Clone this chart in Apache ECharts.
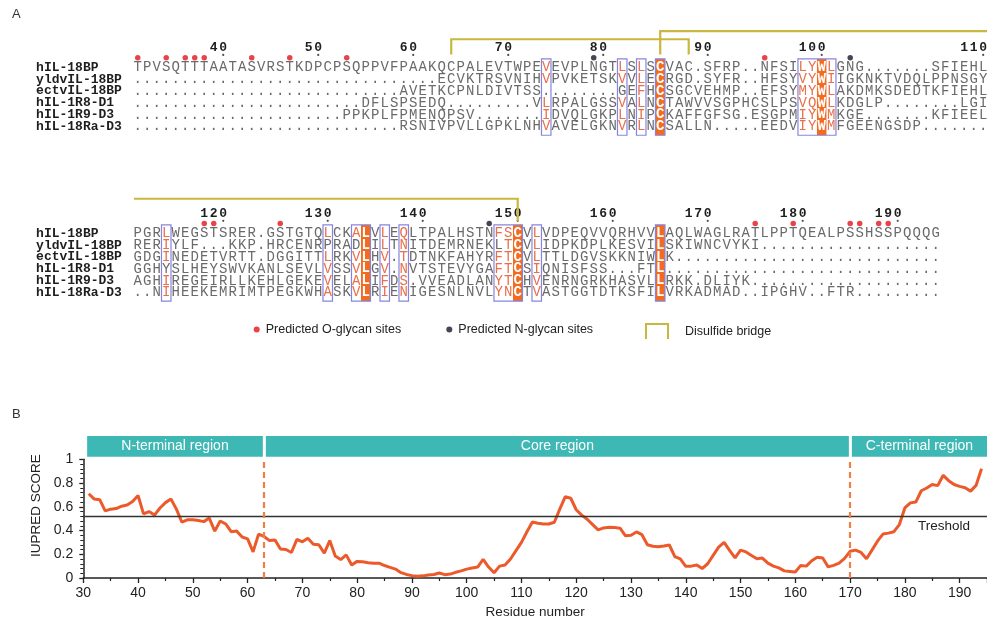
<!DOCTYPE html>
<html><head><meta charset="utf-8">
<script src="https://cdn.jsdelivr.net/npm/echarts@6/dist/echarts.min.js"></script>
<style>html,body{margin:0;padding:0;background:#fff}#c{width:987px;height:620px}</style>
</head><body><div id="c"></div>
<script>
// ---------------- Panel A data (sequence alignment) ----------------
const ALIGN_NAMES = ['hIL-18BP','yldvIL-18BP','ectvIL-18BP','hIL-1R8-D1','hIL-1R9-D3','hIL-18Ra-D3'];
const BLOCK1_SEQS = [
  'TPVSQTTTAATASVRSTKDPCPSQPPVFPAAKQCPALEVTWPEVEVPLNGTLSLSCVAC.SFRP..NFSILYWLGNG.......SFIEHL',
  '.'.repeat(32) + 'ECVKTRSVNIHVPVKETSKVVLECRGD.SYFR..HFSYVYWIIGKNKTVDQLPPNSGY',
  '.'.repeat(28) + 'AVETKCPNLDIVTSS........GEFHCSGCVEHMP..EFSYMYWLAKDMKSDEDTKFIEHL',
  '.'.repeat(24) + 'DFLSPSEDQ.........VLRPALGSSVALNCTAWVVSGPHCSLPSVQWLKDGLP........LGI',
  '.'.repeat(22) + 'PPKPLFPMENQPSV.......IDVQLGKPLNIPCKAFFGFSG.ESGPMIYWMKGE.......KFIEEL',
  '.'.repeat(28) + 'RSNIVPVLLGPKLNHVAVELGKNVRLNCSALLN.....EEDVIYWMFGEENGSDP.......'
];
const BLOCK2_SEQS = [
  'PGRLWEGSTSRER.GSTGTQLCKALVLEQLTPALHSTNFSCVLVDPEQVVQRHVVLAQLWAGLRATLPPTQEALPSSHSSPQQQG',
  'RERIYLF...KKP.HRCENRPRADLILTNITDEMRNEKLTCVLIDPKDPLKESVILSKIWNCVYKI' + '.'.repeat(19),
  'GDGINEDETVRTT.DGGITTLRKVLHV.TDTNKFAHYRFTCVLTTLDGVSKKNIWLK' + '.'.repeat(28),
  'GGHYSLHEYSWVKANLSEVLVSSVLGV.NVTSTEVYGAFTCSIQNISFSS...FTL' + '.'.repeat(29),
  'AGHIREGEIRLLKEHLGEKEVELALIFDS.VVEADLANYTCHVENRNGRKHASVLLRKK.DLIYK' + '.'.repeat(20),
  '..NIHEEKEMRIMTPEGKWHASKVLRIENIGESNLNVLYNCTVASTGGTDTKSFILVRKADMAD..IPGHV..FTR' + '.'.repeat(9)
];
const BLOCK_START_RESIDUE = [31, 111];
const BLOCK1_BOXES = [[43,43],[51,51],[53,53],[55,55],[70,73]];
const BLOCK2_BOXES = [[3,3],[20,20],[23,24],[26,26],[28,28],[38,40],[42,42],[55,55]];
const BLOCK1_CONSERVED = [55,72];
const BLOCK2_CONSERVED = [24,40,55];
const BLOCK1_PLAIN_IN_BOX = [[2,51]];
const BLOCK2_PLAIN_IN_BOX = [[3,3],[1,20],[1,23],[1,38]];
const RULER_NUMBERS = [40,50,60,70,80,90,100,110,120,130,140,150,160,170,180,190];
const O_GLYCAN_SITES = [31,34,36,37,38,43,47,53,94,118,119,125,175,179,185,186,188,189];
const N_GLYCAN_SITES = [79,103,147];
const DISULFIDE_BRIDGES = [[64,89],[86,150]];

// ---------------- Panel B data (IUPred profile) ----------------
const IUPRED_START = 31;
const IUPRED_SCORES = [
  0.71,0.665,0.66,0.565,0.58,0.585,0.605,0.615,0.645,0.695,          // 31-40
  0.54,0.56,0.53,0.59,0.635,0.665,0.58,0.47,0.49,0.49,               // 41-50
  0.485,0.475,0.505,0.395,0.48,0.455,0.39,0.395,0.345,0.33,          // 51-60
  0.22,0.37,0.35,0.315,0.32,0.245,0.24,0.215,0.325,0.305,            // 61-70
  0.335,0.285,0.28,0.21,0.315,0.185,0.155,0.195,0.11,0.14,           // 71-80
  0.137,0.128,0.125,0.125,0.105,0.09,0.075,0.045,0.03,0.02,          // 81-90
  0.015,0.018,0.025,0.03,0.042,0.028,0.033,0.048,0.06,0.075,         // 91-100
  0.085,0.092,0.156,0.092,0.044,0.1,0.11,0.16,0.23,0.3,              // 101-110
  0.39,0.472,0.461,0.455,0.455,0.47,0.58,0.685,0.672,0.575,          // 111-120
  0.53,0.495,0.45,0.405,0.422,0.428,0.425,0.42,0.355,0.36,           // 121-130
  0.388,0.365,0.28,0.267,0.264,0.27,0.278,0.18,0.161,0.098,          // 131-140
  0.1,0.11,0.08,0.12,0.19,0.26,0.3,0.232,0.17,0.235,                 // 141-150
  0.22,0.19,0.162,0.168,0.125,0.1,0.085,0.06,0.055,0.05,             // 151-160
  0.106,0.1,0.145,0.175,0.168,0.094,0.106,0.125,0.165,0.225,         // 161-170
  0.235,0.215,0.162,0.235,0.31,0.37,0.378,0.39,0.45,0.59,            // 171-180
  0.633,0.64,0.735,0.758,0.788,0.778,0.865,0.82,0.788,0.772,         // 181-190
  0.76,0.732,0.78,0.92                                               // 191-194
];
const THRESHOLD = 0.517;
const REGION_NAMES = ['N-terminal region','Core region','C-terminal region'];
const REGION_BOUNDS = [[30.7,63],[63,170],[170,195]];
const REGION_DIVIDERS = [63,170];

// ---------------- styling / layout ----------------
const BLOCK_ROW_BASE = [0, 14];
const C_TEAL = '#3db8b4', C_LINE = '#ec5a2b', C_DASH = '#ef7f45';
const C_FILL = '#f26b21', C_SIM = '#e8704a', C_BOX = '#8585e0', C_BRIDGE = '#c9b83d';
const MONO = "'Liberation Mono','DejaVu Sans Mono',monospace";
const SANS = "'Liberation Sans',Arial,sans-serif";

// residue -> column map built from the reference sequence (hIL-18BP)
const resPos = {};
[BLOCK1_SEQS[0], BLOCK2_SEQS[0]].forEach((seq, b) => {
  let r = BLOCK_START_RESIDUE[b];
  seq.split('').forEach((ch, c) => { if (ch !== '.') { resPos[r] = {b, col: c}; r++; } });
});

const boxesPerBlock = [BLOCK1_BOXES, BLOCK2_BOXES];
const consPerBlock = [BLOCK1_CONSERVED, BLOCK2_CONSERVED];
const plainPerBlock = [BLOCK1_PLAIN_IN_BOX, BLOCK2_PLAIN_IN_BOX];

const letters = [];
[BLOCK1_SEQS, BLOCK2_SEQS].forEach((seqs, b) => {
  seqs.forEach((seq, i) => {
    seq.split('').forEach((ch, c) => {
      let kind = 0;
      if (consPerBlock[b].includes(c)) kind = 2;
      else if (ch !== '.' && boxesPerBlock[b].some(([s, e]) => c >= s && c <= e)
               && !plainPerBlock[b].some(([ri, cc]) => ri === i && cc === c)) kind = 1;
      letters.push({v: [c, BLOCK_ROW_BASE[b] + i], ch, kind});
    });
  });
});

const nameItems = [];
BLOCK_ROW_BASE.forEach(base => ALIGN_NAMES.forEach((n, i) => nameItems.push({v: [-10.7, base + i], n})));

const fillRects = [], boxRects = [];
[0, 1].forEach(b => {
  const base = BLOCK_ROW_BASE[b];
  consPerBlock[b].forEach(c => fillRects.push([c - 0.5, c + 0.5, base - 0.68, base + 5.76]));
  boxesPerBlock[b].forEach(([s, e]) => boxRects.push([s - 0.5, e + 0.5, base - 0.68, base + 5.76]));
});

const rulerDigits = [], rulerTicks = [];
RULER_NUMBERS.forEach(n => {
  const p = resPos[n], base = BLOCK_ROW_BASE[p.b], s = String(n);
  s.split('').forEach((d, k) => rulerDigits.push({v: [p.col - (s.length - 1 - k), base - 1.6], d}));
  rulerTicks.push([p.col, base - 1.02]);
});
const siteData = list => list.map(r => [resPos[r].col, BLOCK_ROW_BASE[resPos[r].b] - 0.79]);

const ALIGN_XMAX = 89.4;
const bridgePaths = [];
DISULFIDE_BRIDGES.forEach(([a, z]) => {
  const pa = resPos[a], pz = resPos[z];
  const ba = BLOCK_ROW_BASE[pa.b], bz = BLOCK_ROW_BASE[pz.b];
  if (pa.b === pz.b) {
    bridgePaths.push([[pa.col, ba - 1.05], [pa.col, ba - 2.34], [pz.col, ba - 2.34], [pz.col, ba - 1.05]]);
  } else {
    bridgePaths.push([[pa.col, ba - 1.05], [pa.col, ba - 3.02], [ALIGN_XMAX, ba - 3.02]]);
    bridgePaths.push([[-0.4, bz - 2.88], [pz.col, bz - 2.88], [pz.col, bz - 0.98]]);
  }
});

const iupredData = IUPRED_SCORES.map((v, i) => [IUPRED_START + i, v]);

const chart = echarts.init(document.getElementById('c'));
const textEl = (x, y, text, fill, font, align) => ({type: 'text', x, y, style: {text, fill, font, align: align || 'center', verticalAlign: 'middle'}});

chart.setOption({
  animation: false,
  backgroundColor: '#fff',
  title: [
    {text: 'A', left: 7, top: 3, textStyle: {fontSize: 13, fontWeight: 'normal', color: '#333', fontFamily: SANS}},
    {text: 'B', left: 7, top: 403, textStyle: {fontSize: 13, fontWeight: 'normal', color: '#333', fontFamily: SANS}}
  ],
  legend: [
    {data: ['Predicted O-glycan sites'], left: 248.7, top: 318, selectedMode: false, itemWidth: 6, itemHeight: 6, icon: 'circle',
     textStyle: {fontSize: 12.5, color: '#222', fontFamily: SANS, padding: [0, 0, 0, 1]}},
    {data: ['Predicted N-glycan sites'], left: 441.3, top: 318, selectedMode: false, itemWidth: 6, itemHeight: 6, icon: 'circle',
     textStyle: {fontSize: 12.5, color: '#222', fontFamily: SANS, padding: [0, 0, 0, 1]}},
    {data: [{name: 'Disulfide bridge', icon: 'path://M0,15L0,0L22,0L22,15',
             itemStyle: {color: 'rgba(0,0,0,0)', borderColor: C_BRIDGE, borderWidth: 2}}],
     left: 640, top: 318, selectedMode: false, itemWidth: 22, itemHeight: 15,
     textStyle: {fontSize: 12.5, color: '#222', fontFamily: SANS, padding: [0, 0, 0, 12]}}
  ],
  grid: [
    {left: 0, top: 0, width: 987, height: 340},
    {left: 83.3, top: 459.3, width: 905.2, height: 120},
    {left: 83.3, top: 436, width: 905.2, height: 20.7}
  ],
  xAxis: [
    {gridIndex: 0, type: 'value', min: -14.5, max: ALIGN_XMAX, show: false},
    {gridIndex: 1, type: 'value', min: 30, max: 195, interval: 10,
     name: 'Residue number', nameLocation: 'middle', nameGap: 27,
     nameTextStyle: {fontSize: 13.5, color: '#222', fontFamily: SANS},
     axisLine: {lineStyle: {color: '#222', width: 1.5}},
     axisTick: {length: 5, lineStyle: {color: '#222', width: 1.3}},
     minorTick: {show: true, splitNumber: 2, length: 3, lineStyle: {color: '#222', width: 1.2}},
     axisLabel: {fontSize: 14, color: '#222', fontFamily: SANS, margin: 8, showMaxLabel: false},
     splitLine: {show: false}},
    {gridIndex: 2, type: 'value', min: 30, max: 195, show: false}
  ],
  yAxis: [
    {gridIndex: 0, type: 'value', min: -5.654, max: 23.038, inverse: true, show: false},
    {gridIndex: 1, type: 'value', min: 0, max: 1, interval: 0.2,
     name: 'IUPRED SCORE', nameLocation: 'middle', nameGap: 36,
     nameTextStyle: {fontSize: 13.5, color: '#222', fontFamily: SANS, padding: [0, 0, 0, 26]},
     axisLine: {show: true, lineStyle: {color: '#222', width: 1.5}},
     axisTick: {show: true, length: 4, lineStyle: {color: '#222', width: 1.3}},
     minorTick: {show: true, splitNumber: 5, length: 3, lineStyle: {color: '#222', width: 1}},
     axisLabel: {fontSize: 14, color: '#222', fontFamily: SANS, margin: 10},
     splitLine: {show: false}},
    {gridIndex: 2, type: 'value', min: 0, max: 1, show: false}
  ],
  series: [
    {type: 'custom', name: 'conserved', xAxisIndex: 0, yAxisIndex: 0, silent: true, z: 1,
     data: fillRects,
     renderItem: (params, api) => {
       const d = fillRects[params.dataIndex];
       const p0 = api.coord([d[0], d[2]]), p1 = api.coord([d[1], d[3]]);
       return {type: 'rect', shape: {x: p0[0], y: p0[1], width: p1[0] - p0[0], height: p1[1] - p0[1]}, style: {fill: C_FILL}};
     }},
    {type: 'custom', name: 'boxes', xAxisIndex: 0, yAxisIndex: 0, silent: true, z: 3,
     data: boxRects,
     renderItem: (params, api) => {
       const d = boxRects[params.dataIndex];
       const p0 = api.coord([d[0], d[2]]), p1 = api.coord([d[1], d[3]]);
       return {type: 'rect', shape: {x: p0[0], y: p0[1], width: p1[0] - p0[0], height: p1[1] - p0[1]},
               style: {fill: 'none', stroke: C_BOX, lineWidth: 1.2}};
     }},
    {type: 'custom', name: 'residues', xAxisIndex: 0, yAxisIndex: 0, silent: true, z: 4,
     data: letters.map(l => l.v),
     renderItem: (params, api) => {
       const l = letters[params.dataIndex];
       const p = api.coord(l.v);
       const fill = l.kind === 2 ? '#fff' : (l.kind === 1 ? C_SIM : '#6a6a6a');
       const font = (l.kind === 2 ? 'bold ' : '') + '14px ' + MONO;
       return textEl(p[0], p[1] + 0.5, l.ch, fill, font);
     }},
    {type: 'custom', name: 'names', xAxisIndex: 0, yAxisIndex: 0, silent: true,
     data: nameItems.map(n => n.v),
     renderItem: (params, api) => {
       const n = nameItems[params.dataIndex];
       const p = api.coord(n.v);
       return textEl(p[0], p[1] + 0.5, n.n, '#1e1e1e', 'bold 13px ' + MONO, 'left');
     }},
    {type: 'custom', name: 'ruler', xAxisIndex: 0, yAxisIndex: 0, silent: true,
     data: rulerDigits.map(d => d.v),
     renderItem: (params, api) => {
       const d = rulerDigits[params.dataIndex];
       const p = api.coord(d.v);
       return textEl(p[0], p[1], d.d, '#1e1e1e', 'bold 13px ' + MONO);
     }},
    {type: 'scatter', name: 'ruler ticks', xAxisIndex: 0, yAxisIndex: 0, silent: true,
     data: rulerTicks, symbol: 'circle', symbolSize: 2.2, itemStyle: {color: '#222'}},
    {type: 'scatter', name: 'Predicted O-glycan sites', xAxisIndex: 0, yAxisIndex: 0, silent: true,
     data: siteData(O_GLYCAN_SITES), symbol: 'circle', symbolSize: 5.5, itemStyle: {color: '#e3141c'}},
    {type: 'scatter', name: 'Predicted N-glycan sites', xAxisIndex: 0, yAxisIndex: 0, silent: true,
     data: siteData(N_GLYCAN_SITES), symbol: 'circle', symbolSize: 5.5, itemStyle: {color: '#161628'}},
    {type: 'custom', name: 'Disulfide bridge', xAxisIndex: 0, yAxisIndex: 0, silent: true, z: 5,
     itemStyle: {color: C_BRIDGE},
     data: bridgePaths.map(p => p[0]),
     renderItem: (params, api) => ({
       type: 'polyline',
       shape: {points: bridgePaths[params.dataIndex].map(pt => api.coord(pt))},
       style: {fill: 'none', stroke: C_BRIDGE, lineWidth: 2.2}
     })},
    {type: 'custom', name: 'regions', xAxisIndex: 2, yAxisIndex: 2, silent: true,
     data: REGION_BOUNDS,
     renderItem: (params, api) => {
       const i = params.dataIndex, [s, e] = REGION_BOUNDS[i];
       const p0 = api.coord([s, 1]), p1 = api.coord([e, 0]);
       const x0 = p0[0] + (i > 0 ? 1.8 : 0), x1 = p1[0] - (i < REGION_BOUNDS.length - 1 ? 1.2 : 0);
       const xr = Math.min(x1, 987);
       return {type: 'group', children: [
         {type: 'rect', shape: {x: x0, y: p0[1], width: x1 - x0, height: p1[1] - p0[1]}, style: {fill: C_TEAL}},
         textEl((x0 + xr) / 2, (p0[1] + p1[1]) / 2, REGION_NAMES[i], '#fff', '14px ' + SANS)
       ]};
     }},
    {type: 'line', name: 'IUPRED', xAxisIndex: 1, yAxisIndex: 1, data: iupredData,
     showSymbol: false, symbol: 'none', lineStyle: {color: C_LINE, width: 3}, z: 4,
     markLine: {
       silent: true, symbol: ['none', 'none'],
       data: [
         {yAxis: THRESHOLD, lineStyle: {type: 'solid', color: '#333', width: 1.3},
          label: {show: true, formatter: 'Treshold', position: 'insideEndBottom', distance: 3,
                  padding: [0, 14, 0, 0], fontSize: 13.5, color: '#222', fontFamily: SANS}},
         ...REGION_DIVIDERS.map(x => ({xAxis: x, lineStyle: {type: [6, 4], color: C_DASH, width: 2.2}, label: {show: false}}))
       ]
     }}
  ]
});
</script></body></html>
